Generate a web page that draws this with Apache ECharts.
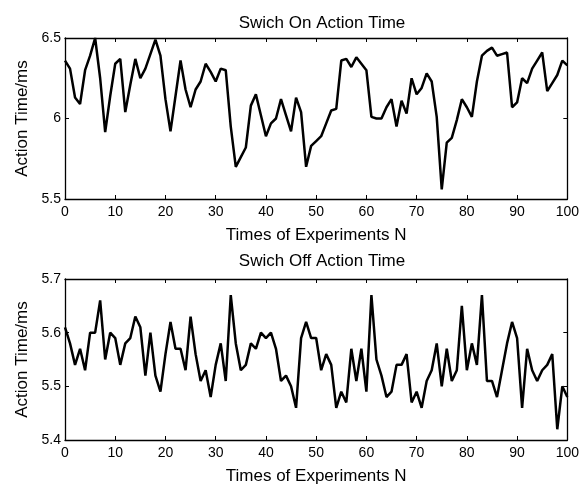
<!DOCTYPE html>
<html>
<head>
<meta charset="utf-8">
<script src="https://cdn.jsdelivr.net/npm/echarts@6/dist/echarts.min.js"></script>
<style>html,body{margin:0;padding:0;background:#fff;}#c{width:582px;height:488px;}</style>
</head>
<body>
<div id="c"></div>
<script>
const topTitle = "Swich On Action Time";
const bottomTitle = "Swich Off Action Time";
const xName = "Times of Experiments N";
const yName = "Action Time/ms";

const onTime = [6.36,6.31,6.13,6.09,6.30,6.39,6.50,6.25,5.915,6.14,
6.34,6.37,6.04,6.21,6.37,6.25,6.31,6.40,6.49,6.39,
6.12,5.92,6.14,6.36,6.18,6.07,6.18,6.23,6.34,6.29,
6.23,6.31,6.30,5.95,5.70,5.76,5.82,6.08,6.15,6.02,
5.89,5.97,6.00,6.12,6.02,5.92,6.13,6.04,5.70,5.83,
5.86,5.89,5.97,6.05,6.06,6.36,6.37,6.32,6.38,6.34,
6.30,6.01,6.00,6.00,6.07,6.12,5.95,6.11,6.03,6.25,
6.15,6.19,6.28,6.23,6.01,5.56,5.85,5.88,5.99,6.12,
6.07,6.01,6.23,6.39,6.42,6.44,6.39,6.40,6.41,6.07,
6.10,6.25,6.22,6.31,6.36,6.41,6.17,6.22,6.27,6.36,
6.33];

const offTime = [5.61,5.58,5.54,5.57,5.53,5.60,5.60,5.66,5.55,5.60,
5.59,5.54,5.58,5.59,5.63,5.61,5.52,5.60,5.52,5.49,
5.56,5.62,5.57,5.57,5.53,5.63,5.56,5.51,5.53,5.48,
5.54,5.58,5.51,5.67,5.58,5.53,5.54,5.58,5.57,5.60,
5.59,5.60,5.57,5.51,5.52,5.50,5.46,5.59,5.62,5.59,
5.59,5.53,5.56,5.54,5.46,5.49,5.47,5.57,5.51,5.57,
5.49,5.67,5.55,5.52,5.48,5.49,5.54,5.54,5.56,5.47,
5.49,5.46,5.51,5.53,5.58,5.50,5.57,5.51,5.53,5.65,
5.53,5.58,5.54,5.67,5.51,5.51,5.48,5.53,5.58,5.62,
5.59,5.46,5.57,5.53,5.51,5.53,5.54,5.56,5.42,5.50,
5.48];

const xTicks = {min: 0, max: 100, interval: 10};
const yTopTicks = {min: 5.5, max: 6.5, interval: 0.5};
const yBottomTicks = {min: 5.4, max: 5.7, interval: 0.1};

const FONT = "'Liberation Sans', Arial, sans-serif";
const chart = echarts.init(document.getElementById('c'), null, {renderer: 'canvas'});

function xAxes(gi) {
  const common = {
    gridIndex: gi, type: 'value', min: xTicks.min, max: xTicks.max, interval: xTicks.interval,
    axisLine: {show: true, onZero: false, lineStyle: {color: '#000', width: 1.3}},
    axisTick: {show: true, inside: true, length: 4, lineStyle: {color: '#000', width: 1}},
    splitLine: {show: false}
  };
  return [
    Object.assign({}, common, {
      position: 'bottom',
      axisLabel: {show: true, color: '#000', fontSize: 14, fontFamily: FONT, margin: 6},
      name: xName, nameLocation: 'middle', nameGap: 28,
      nameTextStyle: {color: '#000', fontSize: 17, fontFamily: FONT}
    }),
    Object.assign({}, common, {position: 'top', axisLabel: {show: false}})
  ];
}
function yAxes(gi, t) {
  const common = {
    gridIndex: gi, type: 'value', min: t.min, max: t.max, interval: t.interval,
    axisLine: {show: true, onZero: false, lineStyle: {color: '#000', width: 1.3}},
    axisTick: {show: true, inside: true, length: 4, lineStyle: {color: '#000', width: 1}},
    splitLine: {show: false}
  };
  return [
    Object.assign({}, common, {
      position: 'left',
      axisLabel: {show: true, color: '#000', fontSize: 14, fontFamily: FONT, margin: 4},
      name: yName, nameLocation: 'middle', nameGap: 34, nameRotate: 90,
      nameTextStyle: {color: '#000', fontSize: 17, fontFamily: FONT}
    }),
    Object.assign({}, common, {position: 'right', axisLabel: {show: false}})
  ];
}

const option = {
  animation: false,
  backgroundColor: '#fff',
  title: [
    {text: topTitle, left: 317, top: 10, textAlign: 'center',
     textStyle: {color: '#000', fontSize: 17, fontWeight: 'normal', fontFamily: FONT}},
    {text: bottomTitle, left: 317, top: 248, textAlign: 'center',
     textStyle: {color: '#000', fontSize: 17, fontWeight: 'normal', fontFamily: FONT}}
  ],
  grid: [
    {left: 65, right: 13, top: 38, height: 161},
    {left: 65, right: 13, top: 279, height: 161}
  ],
  xAxis: [].concat(xAxes(0), xAxes(1)),
  yAxis: [].concat(yAxes(0, yTopTicks), yAxes(1, yBottomTicks)),
  series: [
    {type: 'line', xAxisIndex: 0, yAxisIndex: 0, symbol: 'none',
     lineStyle: {color: '#000', width: 2.5}, data: onTime.map((v, i) => [i, v])},
    {type: 'line', xAxisIndex: 2, yAxisIndex: 2, symbol: 'none',
     lineStyle: {color: '#000', width: 2.5}, data: offTime.map((v, i) => [i, v])}
  ]
};
chart.setOption(option);
</script>
</body>
</html>
